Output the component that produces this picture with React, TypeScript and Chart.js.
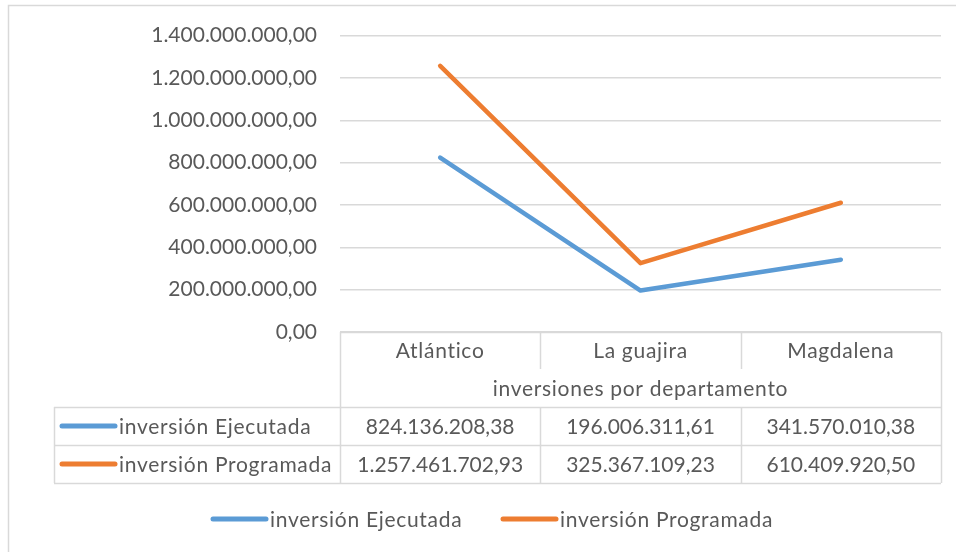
import React, { useEffect, useRef } from "react";
import { Chart, registerables } from "chart.js";

Chart.register(...registerables);

const categories = ["Atlántico", "La guajira", "Magdalena"];
const axisTitle = "inversiones por departamento";
const ejecutada = [824136208.38, 196006311.61, 341570010.38];
const programada = [1257461702.93, 325367109.23, 610409920.5];
const seriesNames = ["inversión Ejecutada", "inversión Programada"];
const seriesColors = ["#5B9BD5", "#ED7D31"];

const FONT = "Lato";
const FS = 21;
const TEXT = "#595959";
const GRID = "#D9D9D9";
const WORD_SPACING = "0.7px";

function fmt(v: number): string {
  const neg = v < 0;
  const abs = Math.abs(v);
  const cents = Math.round(abs * 100);
  const intPart = Math.floor(cents / 100).toString();
  const dec = (cents % 100).toString().padStart(2, "0");
  const grouped = intPart.replace(/\B(?=(\d{3})+(?!\d))/g, ".");
  return (neg ? "-" : "") + grouped + "," + dec;
}

const tablePlugin = {
  id: "dataTable",
  afterDraw(chart: any) {
    const ctx = chart.ctx as any;
    const area = chart.chartArea;
    const xs = chart.scales.x;
    const L = area.left;
    const R = area.right;
    const top = area.bottom;
    const rowCatBottom = top + 37;
    const rowTitleBottom = top + 75;
    const row1Bottom = rowTitleBottom + 38;
    const row2Bottom = row1Bottom + 38;
    const tableLeft = 54;
    const n = categories.length;
    const centers = categories.map((_, i) => xs.getPixelForValue(i));
    const seps: number[] = [];
    for (let i = 0; i < n - 1; i++) seps.push((centers[i] + centers[i + 1]) / 2);

    const setText = (spaced: boolean) => {
      ctx.letterSpacing = spaced ? WORD_SPACING : "0px";
    };

    ctx.save();
    // outer border
    ctx.strokeStyle = GRID;
    ctx.lineWidth = 1.5;
    ctx.beginPath();
    ctx.moveTo(8.5, chart.height + 5);
    ctx.lineTo(8.5, 5.5);
    ctx.lineTo(chart.width + 5, 5.5);
    ctx.stroke();

    ctx.lineWidth = 1.5;
    ctx.beginPath();
    const h = (x1: number, x2: number, y: number) => {
      ctx.moveTo(x1, Math.round(y) + 0.5);
      ctx.lineTo(x2, Math.round(y) + 0.5);
    };
    const v = (x: number, y1: number, y2: number) => {
      ctx.moveTo(Math.round(x) + 0.5, y1);
      ctx.lineTo(Math.round(x) + 0.5, y2);
    };
    h(L, R, top);
    h(tableLeft, R, rowTitleBottom);
    h(tableLeft, R, row1Bottom);
    h(tableLeft, R, row2Bottom);
    v(L, top, row2Bottom);
    v(R, top, row2Bottom);
    v(tableLeft, rowTitleBottom, row2Bottom);
    seps.forEach((s) => {
      v(s, top, rowCatBottom);
      v(s, rowTitleBottom, row2Bottom);
    });
    ctx.stroke();

    ctx.fillStyle = TEXT;
    ctx.font = `${FS}px ${FONT}`;
    ctx.textBaseline = "middle";
    ctx.textAlign = "center";
    setText(true);
    categories.forEach((c, i) => ctx.fillText(c, centers[i], (top + rowCatBottom) / 2 + 1));
    ctx.fillText(axisTitle, (L + R) / 2, (rowCatBottom + rowTitleBottom) / 2 + 1);

    const rows = [ejecutada, programada];
    const rowMids = [(rowTitleBottom + row1Bottom) / 2, (row1Bottom + row2Bottom) / 2];
    rows.forEach((vals, r) => {
      ctx.textAlign = "center";
      setText(false);
      vals.forEach((val, i) => ctx.fillText(fmt(val), centers[i], rowMids[r] + 1));
      // key
      ctx.strokeStyle = seriesColors[r];
      ctx.lineWidth = 5;
      ctx.lineCap = "round";
      ctx.beginPath();
      ctx.moveTo(62, rowMids[r]);
      ctx.lineTo(115, rowMids[r]);
      ctx.stroke();
      ctx.textAlign = "left";
      setText(true);
      ctx.fillText(seriesNames[r], 119, rowMids[r] + 1);
    });

    // legend
    const legY = 519;
    const legStarts = [213, 503];
    seriesNames.forEach((name, r) => {
      ctx.strokeStyle = seriesColors[r];
      ctx.lineWidth = 5;
      ctx.lineCap = "round";
      ctx.beginPath();
      ctx.moveTo(legStarts[r], legY);
      ctx.lineTo(legStarts[r] + 53, legY);
      ctx.stroke();
      ctx.textAlign = "left";
      setText(true);
      ctx.fillText(name, legStarts[r] + 57, legY + 1);
    });
    ctx.restore();
  },
};

export default function App() {
  const ref = useRef<HTMLCanvasElement>(null);
  useEffect(() => {
    document.body.style.margin = "0";
    const chart = new Chart(ref.current!, {
      type: "line",
      data: {
        labels: categories,
        datasets: [
          {
            label: seriesNames[0],
            data: ejecutada,
            borderColor: seriesColors[0],
            backgroundColor: seriesColors[0],
            borderWidth: 4.5,
            borderCapStyle: "round",
            borderJoinStyle: "round",
            pointRadius: 0,
            tension: 0,
          },
          {
            label: seriesNames[1],
            data: programada,
            borderColor: seriesColors[1],
            backgroundColor: seriesColors[1],
            borderWidth: 4.5,
            borderCapStyle: "round",
            borderJoinStyle: "round",
            pointRadius: 0,
            tension: 0,
          },
        ],
      },
      options: {
        animation: false,
        responsive: false,
        layout: { padding: { left: 0, right: 15, top: 34, bottom: 220 } },
        plugins: { legend: { display: false }, tooltip: { enabled: false } },
        scales: {
          x: { type: "category", display: false, offset: true },
          y: {
            min: 0,
            max: 1400000000,
            border: { display: false },
            grid: { color: GRID, lineWidth: 1.5, drawTicks: false },
            afterFit: (scale: any) => {
              scale.width = 340;
            },
            ticks: {
              stepSize: 200000000,
              padding: 23,
              color: TEXT,
              font: { family: FONT, size: FS },
              callback: (val: any) => fmt(Number(val)),
            },
          },
        },
      },
      plugins: [tablePlugin],
    } as any);
    return () => chart.destroy();
  }, []);
  return (
    <div style={{ position: "absolute", left: 0, top: 0, width: 956, height: 552 }}>
      <canvas ref={ref} width={956} height={552} style={{ display: "block" }} />
    </div>
  );
}
